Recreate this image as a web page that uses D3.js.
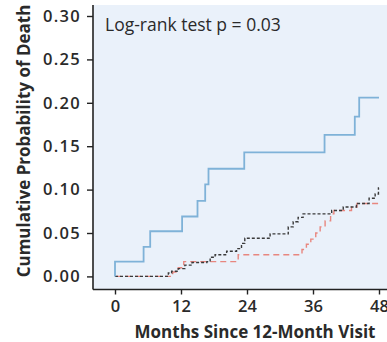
<!DOCTYPE html>
<html>
<head>
<meta charset="utf-8">
<script src="https://cdn.jsdelivr.net/npm/d3@7"></script>
<style>
  html, body { margin: 0; padding: 0; background: #ffffff; }
  svg { display: block; }
</style>
</head>
<body>
<svg id="chart" width="387" height="342"></svg>
<script>
// Cumulative probability of death by months since the 12-month visit
const xTicks = [0, 12, 24, 36, 48];
const yTicks = [0.00, 0.05, 0.10, 0.15, 0.20, 0.25, 0.30];

// Group with the highest risk (solid blue)
const blueTime = [0, 0, 5.2, 6.4, 12.2, 15.0, 16.4, 17.0, 23.5, 38.1, 43.6, 44.4, 48];
const blueProb = [0, 0.017, 0.034, 0.052, 0.069, 0.087, 0.106, 0.124, 0.143, 0.163, 0.184, 0.206, 0.206];

// Reference group (short dark dashes)
const blackTime = [0, 9.7, 10.3, 11.5, 12.7, 14.0, 16.7, 17.3, 18.2, 20.3, 22.1, 23.0, 23.6, 28.2, 31.5, 32.4, 33.3, 34.2, 39.4, 41.5, 43.9, 46.2, 47.3, 47.9, 48];
const blackProb = [0, 0.004, 0.006, 0.009, 0.013, 0.016, 0.017, 0.022, 0.025, 0.029, 0.032, 0.038, 0.044, 0.049, 0.057, 0.063, 0.068, 0.072, 0.076, 0.080, 0.084, 0.090, 0.095, 0.102, 0.102];

// Third group (long red dashes)
const redTime = [0, 10.5, 11.5, 12.5, 22.4, 34.0, 34.8, 35.6, 36.5, 37.3, 38.2, 39.2, 39.8, 43.0, 44.0, 48];
const redProb = [0, 0.005, 0.010, 0.017, 0.025, 0.031, 0.037, 0.043, 0.050, 0.057, 0.064, 0.072, 0.076, 0.080, 0.084, 0.084];

const svg = d3.select("#chart");
const font = "'Open Sans', 'Noto Sans', sans-serif";

const x = d3.scaleLinear().domain([0, 48]).range([115, 379]);
const y = d3.scaleLinear().domain([0, 0.30]).range([276.4, 16]);

const plotLeft = 93, plotTop = 5, plotBottom = 289.5, plotRight = 387;

// Panel background
svg.append("rect")
  .attr("x", plotLeft).attr("y", plotTop)
  .attr("width", plotRight - plotLeft).attr("height", plotBottom - plotTop)
  .attr("fill", "#eaf1fa");

// Y axis
const yAxis = svg.append("g")
  .attr("transform", `translate(${plotLeft},0)`)
  .call(d3.axisLeft(y).tickValues(yTicks).tickFormat(d3.format(".2f")).tickSize(6).tickPadding(6));
yAxis.select(".domain").attr("d", `M0,${plotTop}V${plotBottom}`);

// X axis
const xAxis = svg.append("g")
  .attr("transform", `translate(0,${plotBottom})`)
  .call(d3.axisBottom(x).tickValues(xTicks).tickFormat(d3.format("d")).tickSize(5).tickPadding(6));
xAxis.select(".domain").attr("d", `M${plotLeft},0H${plotRight}`);

[yAxis, xAxis].forEach(g => {
  g.select(".domain").attr("stroke", "#222").attr("stroke-width", 1.6);
  g.selectAll(".tick line").attr("stroke", "#222").attr("stroke-width", 1.4);
  g.selectAll(".tick text")
    .attr("fill", "#2a2a2a")
    .style("font-family", font)
    .style("font-size", "16.5px")
    .style("font-weight", 600);
});
yAxis.selectAll(".tick text").style("letter-spacing", "1.3px");

// Step curves
const step = d3.line()
  .x(d => x(d[0]))
  .y(d => y(d[1]))
  .curve(d3.curveStepAfter);

function series(times, probs) {
  return times.map((t, i) => [t, probs[i]]);
}

svg.append("path")
  .datum(series(redTime, redProb))
  .attr("d", step)
  .attr("fill", "none")
  .attr("stroke", "#e8877f")
  .attr("stroke-width", 1.4)
  .attr("stroke-dasharray", "6,4");

svg.append("path")
  .datum(series(blackTime, blackProb))
  .attr("d", step)
  .attr("fill", "none")
  .attr("stroke", "#3a3a3a")
  .attr("stroke-width", 1.4)
  .attr("stroke-dasharray", "3,2");

svg.append("path")
  .datum(series(blueTime, blueProb))
  .attr("d", step)
  .attr("fill", "none")
  .attr("stroke", "#7fb2d8")
  .attr("stroke-width", 1.8);

// Test annotation
svg.append("text")
  .attr("x", 105).attr("y", 31)
  .attr("fill", "#2a2a2a")
  .style("font-family", font)
  .style("font-size", "17.5px")
  .text("Log-rank test p = 0.03");

// Axis titles
svg.append("text")
  .attr("x", 255).attr("y", 338)
  .attr("text-anchor", "middle")
  .attr("fill", "#2a2a2a")
  .style("font-family", font)
  .style("font-size", "17px")
  .style("font-weight", 700)
  .text("Months Since 12-Month Visit");

svg.append("text")
  .attr("transform", "translate(30,141) rotate(-90)")
  .attr("text-anchor", "middle")
  .attr("fill", "#2a2a2a")
  .style("font-family", font)
  .style("font-size", "17px")
  .style("font-weight", 700)
  .text("Cumulative Probability of Death");
</script>
</body>
</html>
